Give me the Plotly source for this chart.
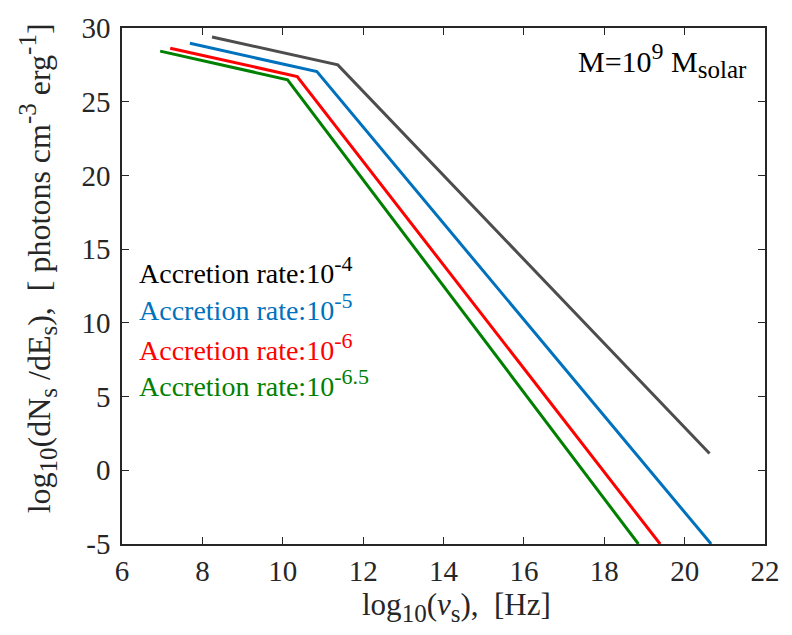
import plotly.graph_objects as go

# Broken power-law photon spectra for a 1e9 solar-mass black hole
log_nu_m4 = [8.24, 11.37, 20.62]
log_dn_m4 = [29.39, 27.50, 1.14]

log_nu_m5 = [7.69, 10.85, 20.66]
log_dn_m5 = [28.96, 27.04, -5.0]

log_nu_m6 = [7.20, 10.36, 19.39]
log_dn_m6 = [28.63, 26.71, -5.0]

log_nu_m65 = [6.95, 10.12, 18.85]
log_dn_m65 = [28.43, 26.49, -5.0]

series = [
    (log_nu_m4, log_dn_m4, "#4d4d4d", "-4", "#000000"),
    (log_nu_m5, log_dn_m5, "#0072BD", "-5", "#0072BD"),
    (log_nu_m6, log_dn_m6, "#FF0000", "-6", "#FF0000"),
    (log_nu_m65, log_dn_m65, "#008000", "-6.5", "#008000"),
]

x_ticks = list(range(6, 23, 2))
y_ticks = list(range(-5, 31, 5))
y_tick_text = [str(v) for v in y_ticks]

FONT = "Liberation Serif"
AX = "#262626"


def sub(t, size):
    return f"<sub><span style='font-size:{size}px'>{t}</span></sub>"


def sup(t, size):
    return f"<sup><span style='font-size:{size}px'>{t}</span></sup>"


fig = go.Figure()
for xs, ys, col, _, _ in series:
    fig.add_trace(go.Scatter(x=xs, y=ys, mode="lines",
                             line=dict(color=col, width=3), showlegend=False))

# labels for each accretion rate
label_y = [13.6, 11.1, 8.35, 5.9]
for (xs, ys, _, exp, tcol), ly in zip(series, label_y):
    fig.add_annotation(x=6.38, y=ly, xref="x", yref="y", xanchor="left", yanchor="middle",
                       text=f"Accretion rate:10{sup(exp, 22)}", showarrow=False,
                       font=dict(family=FONT, size=28, color=tcol))

fig.add_annotation(x=21.6, y=27.8, xref="x", yref="y", xanchor="right", yanchor="middle",
                   text=f"M=10{sup('9', 24)} M{sub('solar', 25)}", showarrow=False,
                   font=dict(family=FONT, size=30, color="#000000"))

# axis titles
fig.add_annotation(x=0.52, y=-0.123, xref="paper", yref="paper", xanchor="center", yanchor="middle",
                   text=f"log{sub('10', 25)}(<i>ν</i>{sub('s', 25)}),  [Hz]", showarrow=False,
                   font=dict(family=FONT, size=31, color=AX))
fig.add_annotation(x=-0.13, y=0.535, xref="paper", yref="paper", xanchor="center", yanchor="middle",
                   textangle=-90,
                   text=(f"log{sub('10', 25)}(dN{sub('s', 25)} /dE{sub('s', 25)}),  "
                         f"[ photons cm{sup('-3', 25)} erg{sup('-1', 25)}]"),
                   showarrow=False, font=dict(family=FONT, size=32, color=AX))

axis_common = dict(showline=True, linecolor=AX, linewidth=1.5, mirror="ticks",
                   ticks="inside", ticklen=7, tickwidth=1.3, tickcolor=AX,
                   showgrid=False, zeroline=False, ticklabeloverflow="allow",
                   tickfont=dict(family=FONT, size=29, color=AX))

fig.update_xaxes(range=[6, 22], tickvals=x_ticks, **axis_common)
fig.update_yaxes(range=[-5, 30], tickvals=y_ticks, ticktext=y_tick_text, ticklabelstandoff=4,
                 **axis_common)

fig.update_layout(width=792, height=635, plot_bgcolor="white", paper_bgcolor="white",
                  font=dict(family=FONT),
                  margin=dict(l=122, r=21, t=14, b=91))

fig.write_html("out.html")
